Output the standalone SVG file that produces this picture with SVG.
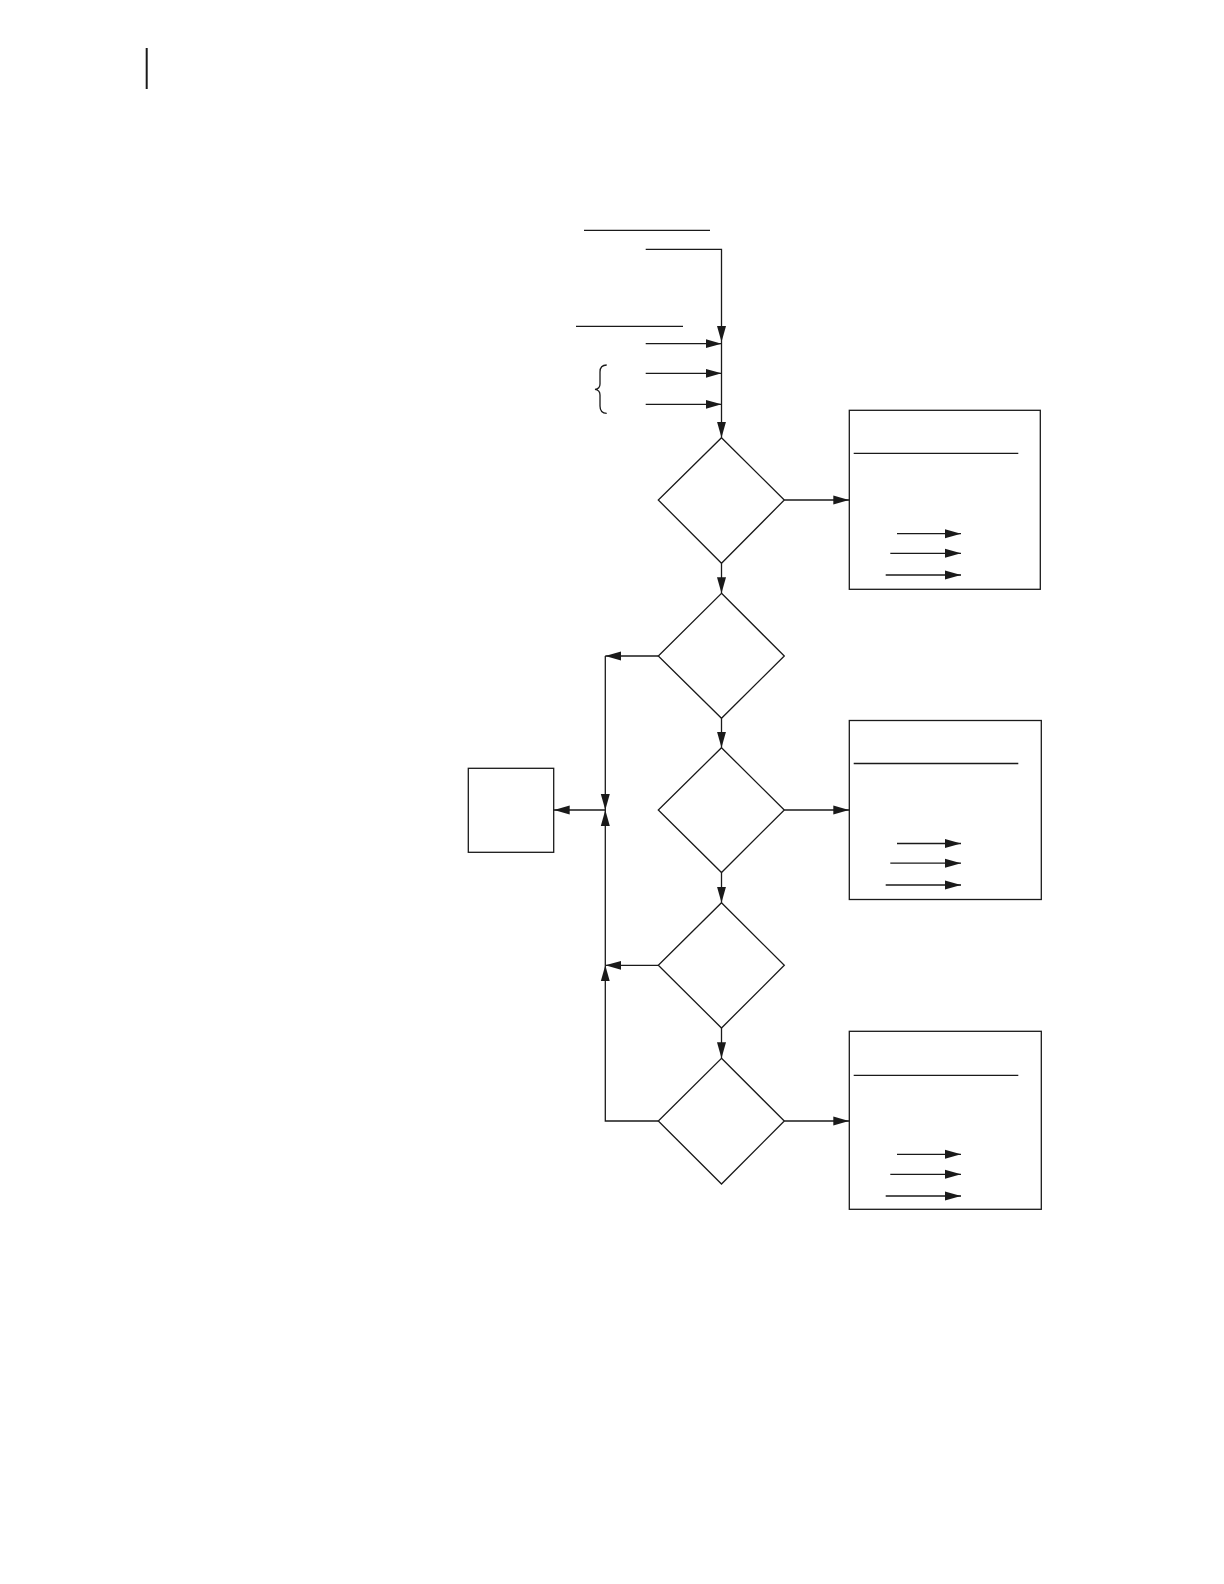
<svg xmlns="http://www.w3.org/2000/svg" width="1224" height="1584" viewBox="0 0 1224 1584">
<defs>
<marker id="ah" markerUnits="userSpaceOnUse" markerWidth="16" markerHeight="10" refX="16" refY="5" orient="auto">
<path d="M0,0.5 L16,5 L0,9.5 z" fill="#1a1a1a"/>
</marker>
<style>
.s{fill:none;stroke:#1a1a1a;stroke-width:1.3}
.n{fill:#fff;stroke:#1a1a1a;stroke-width:1.3}
.a{fill:none;stroke:#1a1a1a;stroke-width:1.3;marker-end:url(#ah)}
</style>
</defs>
<rect width="1224" height="1584" fill="#fff"/>
<line x1="146.7" y1="48" x2="146.7" y2="89" stroke="#1a1a1a" stroke-width="2"/>

<g id="inputs">
<line class="s" x1="584" y1="230.3" x2="710" y2="230.3"/>
<line class="s" x1="576" y1="326.3" x2="683" y2="326.3"/>
<path class="s" d="M606.7,365 Q600,365 600,372 L600,384 Q600,389 595,389.3 Q600,390 600,395 L600,406 Q600,413.3 606.7,413.3"/>
</g>

<g id="d1"><polygon class="n" points="721.5,437.7 784.3,500 721.5,563.3 658.3,500"/></g>
<g id="d2"><polygon class="n" points="721.5,593.3 784.3,656 721.5,718.3 658.3,656"/></g>
<g id="d3"><polygon class="n" points="721.5,747.7 784.3,810 721.5,872.5 658.3,810"/></g>
<g id="d4"><polygon class="n" points="721.5,902.7 784.3,965.3 721.5,1028 658.3,965.3"/></g>
<g id="d5"><polygon class="n" points="721.5,1058.3 784.3,1121 721.5,1184 658.3,1121"/></g>

<g id="b0"><rect class="n" x="468.3" y="768.3" width="85.4" height="84"/></g>

<g id="b1">
<rect class="n" x="849.3" y="410.3" width="191" height="179"/>
<line class="s" x1="853.7" y1="453.3" x2="1018.3" y2="453.3"/>
<line class="a" x1="897" y1="533.7" x2="961" y2="533.7"/>
<line class="a" x1="890.3" y1="553.3" x2="961" y2="553.3"/>
<line class="a" x1="885.7" y1="575" x2="961" y2="575"/>
</g>
<g id="b2">
<rect class="n" x="849.3" y="720.5" width="192" height="179"/>
<line class="s" x1="853.7" y1="763.5" x2="1018.3" y2="763.5"/>
<line class="a" x1="897" y1="843.5" x2="961" y2="843.5"/>
<line class="a" x1="890.3" y1="863.2" x2="961" y2="863.2"/>
<line class="a" x1="885.7" y1="885" x2="961" y2="885"/>
</g>
<g id="b3">
<rect class="n" x="849.3" y="1031.3" width="192" height="178"/>
<line class="s" x1="853.7" y1="1075.3" x2="1018.3" y2="1075.3"/>
<line class="a" x1="897" y1="1154.3" x2="961" y2="1154.3"/>
<line class="a" x1="890.3" y1="1174.3" x2="961" y2="1174.3"/>
<line class="a" x1="885.7" y1="1196" x2="961" y2="1196"/>
</g>

<g id="connectors">
<path class="a" d="M645.7,249.3 L721.5,249.3 L721.5,342"/>
<line class="a" x1="645.7" y1="343.7" x2="721.5" y2="343.7"/>
<line class="a" x1="645.7" y1="373.3" x2="721.5" y2="373.3"/>
<line class="a" x1="645.7" y1="404.3" x2="721.5" y2="404.3"/>
<line class="a" x1="721.5" y1="342" x2="721.5" y2="437.7"/>
<line class="a" x1="784.3" y1="500" x2="849.3" y2="500"/>
<line class="a" x1="721.5" y1="563.3" x2="721.5" y2="593.3"/>
<line class="a" x1="658.3" y1="656" x2="605.3" y2="656"/>
<line class="a" x1="605.3" y1="656" x2="605.3" y2="810"/>
<line class="a" x1="605.3" y1="810" x2="553.7" y2="810"/>
<line class="a" x1="605.3" y1="965.3" x2="605.3" y2="810"/>
<line class="a" x1="721.5" y1="718.3" x2="721.5" y2="747.7"/>
<line class="a" x1="784.3" y1="810" x2="849.3" y2="810"/>
<line class="a" x1="721.5" y1="872.5" x2="721.5" y2="902.7"/>
<line class="a" x1="658.3" y1="965.3" x2="605.3" y2="965.3"/>
<line class="a" x1="721.5" y1="1028" x2="721.5" y2="1058.3"/>
<path class="a" d="M658.3,1121 L605.3,1121 L605.3,965.3"/>
<line class="a" x1="784.3" y1="1121" x2="849.3" y2="1121"/>
</g>
</svg>
